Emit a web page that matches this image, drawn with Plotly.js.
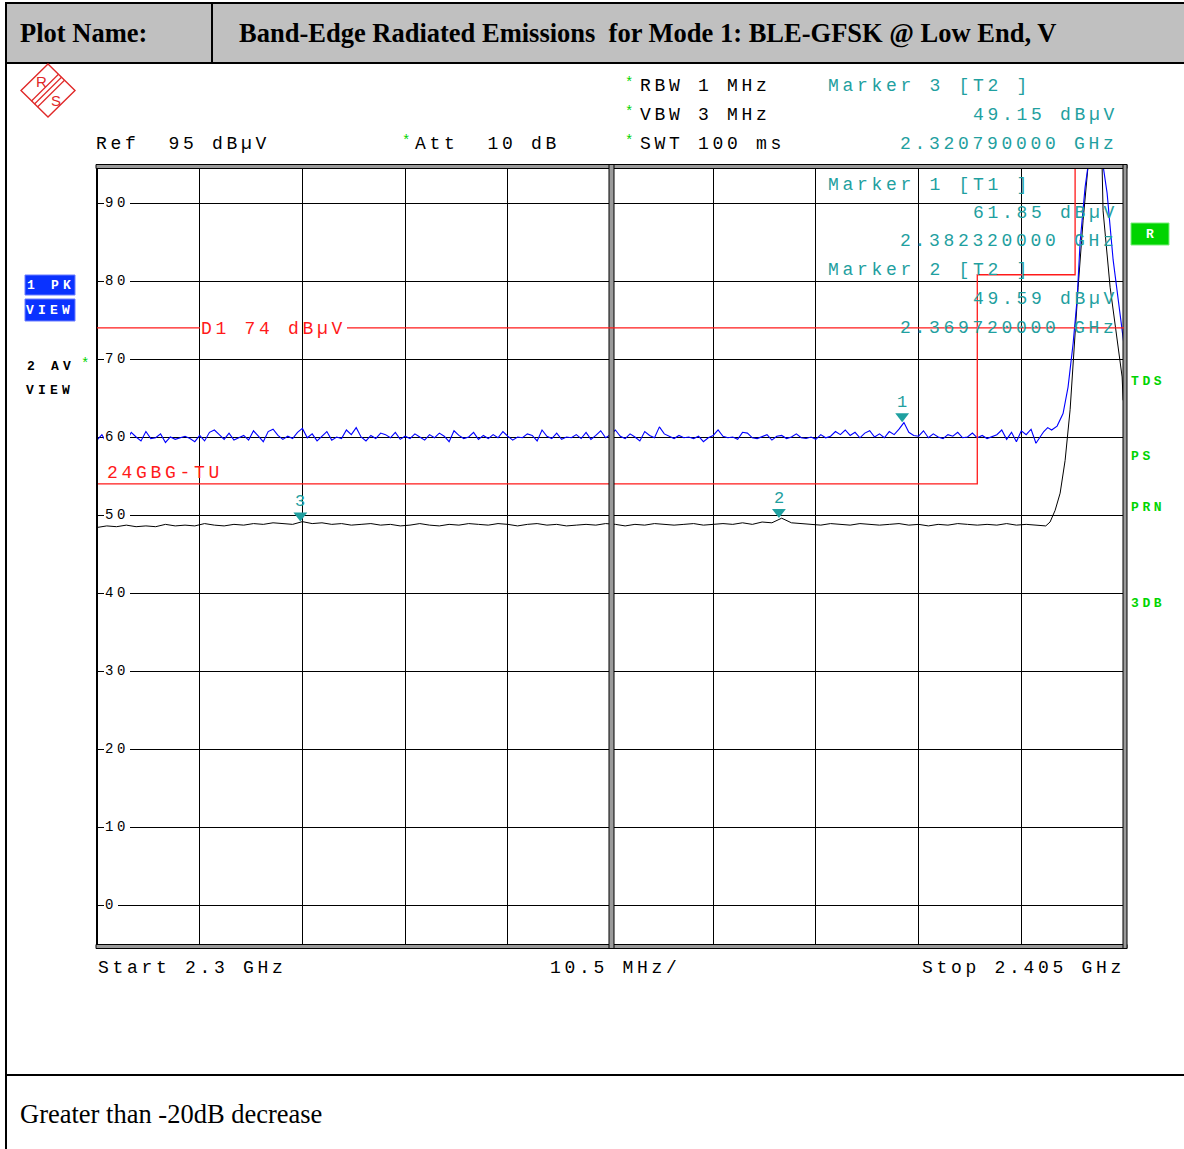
<!DOCTYPE html>
<html>
<head>
<meta charset="utf-8">
<script src="https://cdn.plot.ly/plotly-3.0.1.min.js"></script>
<style>
body{margin:0;background:#fff;}
#chart{width:1184px;height:1149px;}
</style>
</head>
<body>
<div id="chart"></div>
<script>
// ---------------- DATA ----------------
const startGHz = 2.300;
const stopGHz = 2.405;
const divMHz = 10.5;
const refLevel = 95;
const yTicks = [90, 80, 70, 60, 50, 40, 30, 20, 10, 0];
const d1Level = 74;

// Trace 1 (PK, blue) – frequencies in MHz, levels in dBµV
const pkFreqMHz = [
2300,2300.5,2301,2301.5,2302,2302.5,2303,2303.5,2304,2304.5,2305,2305.5,2306,2306.5,2307,2307.5,2308,2308.5,2309,2309.5,
2310,2310.5,2311,2311.5,2312,2312.5,2313,2313.5,2314,2314.5,2315,2315.5,2316,2316.5,2317,2317.5,2318,2318.5,2319,2319.5,
2320,2320.5,2321,2321.5,2322,2322.5,2323,2323.5,2324,2324.5,2325,2325.5,2326,2326.5,2327,2327.5,2328,2328.5,2329,2329.5,
2330,2330.5,2331,2331.5,2332,2332.5,2333,2333.5,2334,2334.5,2335,2335.5,2336,2336.5,2337,2337.5,2338,2338.5,2339,2339.5,
2340,2340.5,2341,2341.5,2342,2342.5,2343,2343.5,2344,2344.5,2345,2345.5,2346,2346.5,2347,2347.5,2348,2348.5,2349,2349.5,
2350,2350.5,2351,2351.5,2352,2352.5,2353,2353.5,2354,2354.5,2355,2355.5,2356,2356.5,2357,2357.5,2358,2358.5,2359,2359.5,
2360,2360.5,2361,2361.5,2362,2362.5,2363,2363.5,2364,2364.5,2365,2365.5,2366,2366.5,2367,2367.5,2368,2368.5,2369,2369.5,
2370,2370.5,2371,2371.5,2372,2372.5,2373,2373.5,2374,2374.5,2375,2375.5,2376,2376.5,2377,2377.5,2378,2378.5,2379,2379.5,
2380,2380.5,2381,2381.5,2382,2382.5,2383,2383.5,2384,2384.5,2385,2385.5,2386,2386.5,2387,2387.5,2388,2388.5,2389,2389.5,
2390,2390.5,2391,2391.5,2392,2392.5,2393,2393.5,2394,2394.5,2395,2395.5,
2396,2396.42,2396.8,2397.2,2397.6,2398.16,2398.5,2398.77,2399.28,2399.8,2400.2,2400.51,2401.02,2401.33,2402.86,2403.27,2403.89,2404.6,2405
];
const pkLevel = [
59.6,60.3,59.2,60.1,60.8,59.9,59.4,60.6,60.0,59.5,60.7,59.8,59.9,60.4,59.3,60.0,59.7,59.9,60.1,59.8,
59.4,60.2,59.5,60.6,60.9,60.3,59.7,60.5,59.6,59.9,60.2,59.6,60.8,60.1,59.4,60.7,61.0,60.2,59.7,60.1,
59.8,60.6,61.1,59.9,60.4,59.5,60.1,60.7,59.6,60.0,59.8,60.9,60.3,61.2,60.0,59.5,60.2,59.8,60.5,60.3,
59.9,60.6,59.7,60.1,59.8,60.4,60.0,59.6,60.3,59.9,60.5,60.1,59.4,60.8,60.2,59.8,60.0,60.6,59.7,60.2,
59.8,60.3,59.9,60.7,60.1,59.6,60.0,59.9,60.4,60.2,59.5,60.9,60.1,59.8,60.5,59.7,60.0,59.9,60.3,59.8,
60.6,59.7,60.2,60.8,59.9,60.3,60.9,60.1,59.8,60.4,60.0,59.5,60.7,60.2,59.9,61.3,60.4,60.1,59.8,60.2,
59.9,60.0,59.8,60.1,59.4,59.9,60.2,60.9,60.1,59.9,60.0,59.7,60.6,60.5,59.9,59.8,60.0,60.3,59.6,60.1,
60.2,59.8,60.0,60.4,59.9,59.8,60.0,59.7,60.3,59.9,60.1,60.7,60.3,60.9,60.2,60.6,59.9,60.5,60.8,60.0,
60.4,59.9,60.7,60.3,61.0,61.85,60.6,60.2,60.1,60.8,59.9,60.4,60.0,59.8,60.3,60.1,60.6,59.9,60.0,60.5,
59.9,60.2,59.8,60.0,60.3,60.9,59.7,60.6,59.4,60.8,60.3,61.0,
59.2,60.0,60.7,61.2,60.9,61.4,62.2,63.0,66.4,72.0,77.6,84.9,92.0,94.8,94.8,91.3,82.7,75.4,71.8
];

// Trace 2 (AV, black)
const avFreqMHz = [
2300,2301,2302,2303,2304,2305,2306,2307,2308,2309,
2310,2311,2312,2313,2314,2315,2316,2317,2318,2319,
2320,2321,2322,2323,2324,2325,2326,2327,2328,2329,
2330,2331,2332,2333,2334,2335,2336,2337,2338,2339,
2340,2341,2342,2343,2344,2345,2346,2347,2348,2349,
2350,2351,2352,2353,2354,2355,2356,2357,2358,2359,
2360,2361,2362,2363,2364,2365,2366,2367,2368,2369,
2370,2371,2372,2373,2374,2375,2376,2377,2378,2379,
2380,2381,2382,2383,2384,2385,2386,2387,2388,2389,
2390,2391,2392,2393,2394,2395,2396,
2397,2397.44,2397.96,2398.47,2398.98,2399.49,2399.8,2400.31,2400.82,2401.33,2402.76,2402.86,2403.58,2404.29,2404.81,2404.91
];
const avLevel = [
48.4,48.6,48.5,48.7,48.5,48.6,48.5,48.8,48.6,48.7,
48.6,48.9,48.7,48.6,48.8,48.7,48.9,48.8,49.0,48.9,
48.8,49.15,48.9,49.0,48.8,48.9,48.7,48.8,48.9,48.7,
48.8,48.6,48.7,48.9,48.7,48.6,48.8,48.7,48.9,48.8,
48.7,48.9,48.8,48.6,48.8,48.9,48.7,48.8,48.6,48.7,
48.8,48.7,48.9,48.8,48.6,48.8,48.7,48.9,48.8,48.7,
48.8,48.9,48.7,48.8,48.9,48.8,49.0,48.8,49.1,49.0,
49.59,49.0,48.9,48.8,48.7,48.9,48.8,48.7,48.9,48.8,
48.7,48.8,48.9,48.7,48.8,48.6,48.8,48.7,48.9,48.8,
48.7,48.8,48.7,48.9,48.7,48.8,48.7,
48.6,49.1,50.6,52.8,57.0,63.5,69.9,79.2,87.8,94.8,94.8,89.0,79.2,72.4,67.7,64.7
];

// Limit line 24GBG-TU
const limitFreqGHz = [2.300, 2.390, 2.390, 2.400, 2.400];
const limitLevel = [54, 54, 80.8, 80.8, 100];

// Markers
const markerNames = ['1', '2', '3'];
const markerTrace = ['T1', 'T2', 'T2'];
const markerFreqGHz = [2.38232, 2.36972, 2.32079];
const markerLevel = [61.85, 49.59, 49.15];
const markerFreqText = ['2.382320000 GHz', '2.369720000 GHz', '2.320790000 GHz'];
const markerLevelText = ['61.85 dBµV', '49.59 dBµV', '49.15 dBµV'];

// ---------------- LAYOUT HELPERS ----------------
const W = 1184, H = 1149;
const PL = 97, PR = 1124, PT = 164, PB = 944;
const X = px => (px - PL) / (PR - PL);
const Y = py => (PB - py) / (PB - PT);
const TEAL = '#1fa0a0', RED = '#ff1a1a', GREEN = '#00d400', BLUE = '#0a32ff';
const NB = '\u00a0';
const MONO = 'Liberation Mono, DejaVu Sans Mono, monospace';
const SERIF = 'Liberation Serif, Times New Roman, serif';

function T(text, px, py, o) {
  o = o || {};
  const ls = o.ls == null ? 3.7 : o.ls;
  return {
    xref: 'paper', yref: 'paper', x: X(px), y: Y(py),
    xanchor: o.anchor || 'left', yanchor: 'middle', showarrow: false,
    text: ls ? '<span style="letter-spacing:' + ls + 'px">' + text + '</span>' : text,
    font: {family: o.family || MONO, size: o.size || 18, color: o.color || '#000', weight: o.weight || 'normal'},
    bgcolor: o.bg || 'rgba(0,0,0,0)', borderpad: o.pad == null ? 0 : o.pad, borderwidth: 0
  };
}
function R(x0, y0, x1, y1, fill, lc, lw, layer) {
  return {type: 'rect', xref: 'paper', yref: 'paper', x0: X(x0), x1: X(x1), y0: Y(y0), y1: Y(y1),
    fillcolor: fill || 'rgba(0,0,0,0)', line: {color: lc || 'rgba(0,0,0,0)', width: lw || 0}, layer: layer || 'above'};
}
function L(x0, y0, x1, y1, c, w) {
  return {type: 'line', xref: 'paper', yref: 'paper', x0: X(x0), x1: X(x1), y0: Y(y0), y1: Y(y1),
    line: {color: c || '#000', width: w || 1}, layer: 'above'};
}

const shapes = [];
// table
shapes.push(R(6, 4, 1184, 62, '#c0c0c0', null, 0, 'below'));
shapes.push(L(5, 3, 1184, 3, '#000', 2));
shapes.push(L(6, 3, 6, 1149, '#000', 2));
shapes.push(L(5, 63, 1184, 63, '#000', 2));
shapes.push(L(212, 3, 212, 63, '#000', 2));
shapes.push(L(5, 1075, 1184, 1075, '#000', 2));
// plot frame
shapes.push(R(96, 164, 98, 949, '#000'));
shapes.push(R(96, 164.5, 1127, 168.5, '#9a9a9a', '#000', 1));
shapes.push(R(96, 944.5, 1127, 948.5, '#9a9a9a', '#000', 1));
shapes.push(R(1123, 164.5, 1127, 948.5, '#9a9a9a', '#000', 1));
shapes.push(R(609, 164.5, 614, 948.5, '#9a9a9a', '#000', 1));
// D1 display line (two segments around its label)
shapes.push({type: 'line', xref: 'paper', yref: 'y', x0: 0, x1: X(200), y0: d1Level, y1: d1Level, line: {color: RED, width: 1.3}, layer: 'above'});
shapes.push({type: 'line', xref: 'paper', yref: 'y', x0: X(347), x1: 1, y0: d1Level, y1: d1Level, line: {color: RED, width: 1.3}, layer: 'above'});
// PK / AV / R boxes
shapes.push(R(25, 275, 75, 295, BLUE, '#6a7cff', 1));
shapes.push(R(25, 299, 75, 321, BLUE, '#6a7cff', 1));
shapes.push(R(1131, 223, 1169, 245, GREEN, '#7aee7a', 1));
// R&S logo
shapes.push({type: 'path', xref: 'paper', yref: 'paper',
  path: 'M ' + X(48) + ',' + Y(64) + ' L ' + X(75) + ',' + Y(90.5) + ' L ' + X(48) + ',' + Y(117) + ' L ' + X(21) + ',' + Y(90.5) + ' Z',
  line: {color: '#e02828', width: 1.4}, layer: 'above'});
[-3, 0, 3].forEach(function (d) {
  shapes.push(L(61.5 + d, 77.3 + d, 34.5 + d, 104 + d, '#e02828', 1.2));
});

const ann = [];
// header / footer
ann.push(T('Plot Name:', 20, 33, {family: SERIF, size: 26.5, weight: 'bold', ls: 0}));
ann.push(T('Band-Edge Radiated Emissions' + NB + ' for Mode 1: BLE-GFSK @ Low End, V', 239, 33, {family: SERIF, size: 26.5, weight: 'bold', ls: 0}));
ann.push(T('Greater than -20dB decrease', 20, 1114, {family: SERIF, size: 26.5, ls: 0}));
// logo letters
ann.push(T('R', 41, 82, {family: 'Liberation Sans', size: 15, color: '#e02828', ls: 0, anchor: 'center'}));
ann.push(T('S', 56, 100, {family: 'Liberation Sans', size: 15, color: '#e02828', ls: 0, anchor: 'center'}));
// instrument settings
[['RBW 1 MHz', 86], ['VBW 3 MHz', 115], ['SWT 100 ms', 144]].forEach(function (r) {
  ann.push(T('*', 625, r[1] - 3, {color: GREEN, size: 14, ls: 0}));
  ann.push(T(r[0], 640, r[1]));
});
ann.push(T('Ref' + NB + NB + refLevel + ' dBµV', 96, 144));
ann.push(T('*', 402, 141, {color: GREEN, size: 14, ls: 0}));
ann.push(T('Att' + NB + NB + '10 dB', 415, 144));
// marker readouts
const mOrder = [2, 0, 1];
const mRows = [[86, 115, 144], [185, 213, 241], [270, 299, 328]];
mOrder.forEach(function (mi, k) {
  ann.push(T('Marker ' + markerNames[mi] + ' [' + markerTrace[mi] + ' ]', 828, mRows[k][0], {color: TEAL}));
  ann.push(T(markerLevelText[mi], 973, mRows[k][1], {color: TEAL}));
  ann.push(T(markerFreqText[mi], 900, mRows[k][2], {color: TEAL}));
});
// y labels
yTicks.forEach(function (v) {
  const py = PB - (v - (refLevel - 100)) / 100 * (PB - PT);
  ann.push(T(String(v), 104, py, {size: 14, ls: 3.6, bg: '#fff', pad: 1}));
});
// display line + limit labels
ann.push(T('D1 ' + d1Level + ' dBµV', 201, 329, {color: RED}));
ann.push(T('24GBG-TU', 107, 473, {color: RED}));
// marker numbers
markerFreqGHz.forEach(function (f, i) {
  const px = PL + (f - startGHz) / (stopGHz - startGHz) * (PR - PL);
  const py = PB - (markerLevel[i] - (refLevel - 100)) / 100 * (PB - PT);
  ann.push({xref: 'paper', yref: 'paper', x: X(px), y: Y(py - 20), xanchor: 'center', yanchor: 'middle', showarrow: false,
    text: markerNames[i], font: {family: MONO, size: 17, color: TEAL}});
});
// bottom
ann.push(T('Start 2.3 GHz', 98, 968));
ann.push(T(divMHz + ' MHz/', 550, 968));
ann.push(T('Stop 2.405 GHz', 922, 968));
// left trace labels
ann.push(T('1 PK', 27, 285, {color: '#fff', size: 13, weight: 'bold', ls: 4.2}));
ann.push(T('VIEW', 26, 310, {color: '#fff', size: 13, weight: 'bold', ls: 4.2}));
ann.push(T('2 AV', 27, 366, {size: 13, weight: 'bold', ls: 4.2}));
ann.push(T('*', 81, 364, {color: GREEN, size: 14, ls: 0}));
ann.push(T('VIEW', 26, 390, {size: 13, weight: 'bold', ls: 4.2}));
// right labels
ann.push(T('R', 1150, 234, {color: '#fff', size: 13, weight: 'bold', ls: 0, anchor: 'center'}));
[['TDS', 381], ['PS', 456], ['PRN', 507], ['3DB', 603]].forEach(function (r) {
  ann.push(T(r[0], 1131, r[1], {color: GREEN, size: 13, weight: 'bold', ls: 3.6}));
});

const toGHz = a => a.map(v => v / 1000);
const markerOffsetDb = 0.8;
const traces = [
  {x: toGHz(avFreqMHz), y: avLevel, type: 'scatter', mode: 'lines', line: {color: '#000', width: 1}, hoverinfo: 'skip'},
  {x: toGHz(pkFreqMHz), y: pkLevel, type: 'scatter', mode: 'lines', line: {color: '#0000ff', width: 1.1}, hoverinfo: 'skip'},
  {x: limitFreqGHz, y: limitLevel, type: 'scatter', mode: 'lines', line: {color: RED, width: 1.3}, hoverinfo: 'skip'},
  {x: markerFreqGHz, y: markerLevel.map(v => v + markerOffsetDb), type: 'scatter', mode: 'markers',
    marker: {symbol: 'triangle-down', size: 12, color: TEAL}, cliponaxis: false, hoverinfo: 'skip'}
];

const layout = {
  width: W, height: H,
  margin: {l: PL, r: W - PR, t: PT, b: H - PB, pad: 0},
  paper_bgcolor: '#fff', plot_bgcolor: '#fff',
  showlegend: false,
  xaxis: {range: [startGHz, stopGHz], tick0: startGHz, dtick: divMHz / 1000, showgrid: true, gridcolor: '#000', gridwidth: 1,
    showticklabels: false, ticks: '', zeroline: false, showline: false, fixedrange: true},
  yaxis: {range: [refLevel - 100, refLevel], tick0: 0, dtick: 10, showgrid: true, gridcolor: '#000', gridwidth: 1,
    showticklabels: false, ticks: '', zeroline: false, showline: false, fixedrange: true},
  shapes: shapes,
  annotations: ann
};

Plotly.newPlot('chart', traces, layout, {staticPlot: true, displayModeBar: false});
</script>
</body>
</html>
